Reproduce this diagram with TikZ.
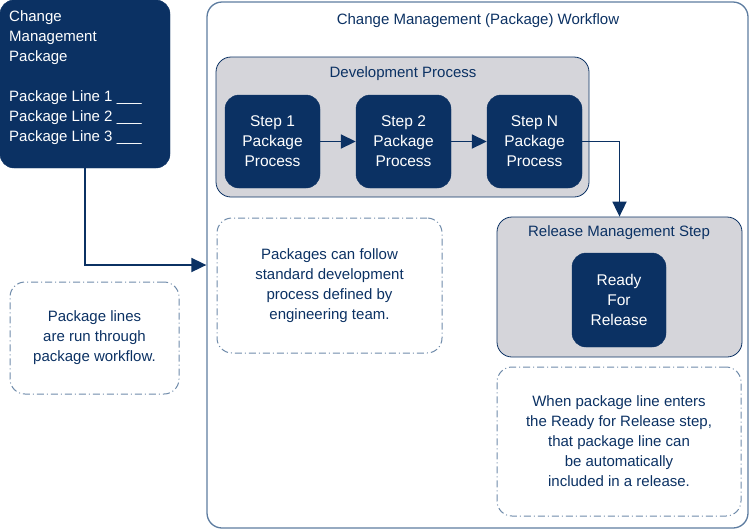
\documentclass[tikz,border=0pt]{standalone}
\usepackage{fontspec}
\setmainfont{Liberation Sans}
\usetikzlibrary{arrows.meta}
\definecolor{navy}{HTML}{0B3163}
\definecolor{panel}{HTML}{D5D5DA}
\definecolor{frame}{HTML}{5D7CA0}
\definecolor{notec}{HTML}{6F8BAA}
\begin{document}
\begin{tikzpicture}[x=1pt,y=-1pt,
  every node/.style={font=\fontsize{15}{20}\selectfont, text=navy},
  darkbox/.style={draw=navy, fill=navy, rounded corners=14pt, inner sep=0pt, text=white, align=center},
  stepbox/.style={darkbox, font=\fontsize{15.5}{20}\selectfont},
  panelbox/.style={draw=navy, line width=0.8pt, fill=panel, rounded corners=15pt, inner sep=0pt},
  notebox/.style={draw=notec, line width=1pt, rounded corners=15pt, inner sep=0pt, align=center,
     dash pattern=on 7pt off 3pt on 1pt off 3pt},
  conn/.style={draw=navy, line width=1.8pt, -{Triangle[length=15pt,width=14pt]}},
]
\useasboundingbox (0,0) rectangle (751,531);
% outer workflow frame
\node[draw=frame, line width=1.3pt, rounded corners=15pt, minimum width=541pt, minimum height=526pt, inner sep=0pt] (outer) at (477.5,265) {};
\node (otitle) at (478,21) {Change Management (Package) Workflow};
% left package box
\node[darkbox, minimum width=170pt, minimum height=168pt] (lbox) at (85,84) {};
\node[anchor=west, align=left, text=white, inner sep=0pt] (ltext) at (9,78)
  {Change\\Management\\Package\\[20pt]Package Line 1 \_\_\_\\Package Line 2 \_\_\_\\Package Line 3 \_\_\_};
% development process
\node[panelbox, minimum width=373pt, minimum height=140pt] (dev) at (402.5,127) {};
\node (devtitle) at (403,74) {Development Process};
\node[stepbox, minimum width=95pt, minimum height=93pt] (s1) at (272.5,141.5) {Step 1\\Package\\Process};
\node[stepbox, minimum width=95pt, minimum height=93pt] (s2) at (403.5,141.5) {Step 2\\Package\\Process};
\node[stepbox, minimum width=95pt, minimum height=93pt] (sn) at (534.5,141.5) {Step N\\Package\\Process};
% release management
\node[panelbox, minimum width=245pt, minimum height=140pt] (rel) at (619.5,287) {};
\node (reltitle) at (619,233) {Release Management Step};
\node[stepbox, minimum width=94pt, minimum height=94pt] (ready) at (619,300) {Ready\\For\\Release};
% notes
\node[notebox, minimum width=225pt, minimum height=135pt] (n1) at (329.5,285.5)
  {Packages can follow\\standard development\\process defined by\\engineering team.};
\node[notebox, minimum width=169pt, minimum height=112pt] (n2) at (94.5,338)
  {Package lines\\are run through\\package workflow.};
\node[notebox, minimum width=244pt, minimum height=149pt] (n3) at (619,441.5)
  {When package line enters\\the Ready for Release step,\\that package line can\\be automatically\\included in a release.};
% connectors
\draw[conn] (s1.east) -- (s2.west);
\draw[conn] (s2.east) -- (sn.west);
\draw[conn] (sn.east) -| (rel.north);
\draw[conn] (lbox.south) |- (outer.west);
\end{tikzpicture}
\end{document}
